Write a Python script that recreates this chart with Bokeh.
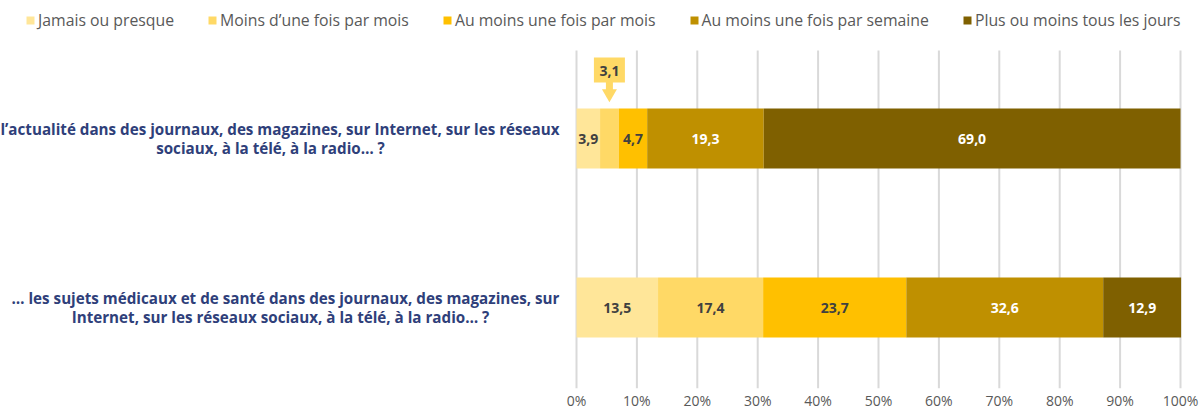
from bokeh.plotting import figure
from bokeh.models import Range1d, Legend, LegendItem, FixedTicker
from bokeh.core.properties import value
from bokeh.embed import file_html
from bokeh.resources import INLINE

# ---------------- data ----------------
series = ["Jamais ou presque", "Moins d\u2019une fois par mois", "Au moins une fois par mois",
          "Au moins une fois par semaine", "Plus ou moins tous les jours"]
colors = ["#FFE699", "#FFD966", "#FFC000", "#BF9000", "#7F6000"]
label_colors = ["#404040", "#404040", "#404040", "#FFFFFF", "#FFFFFF"]

actualite = [3.9, 3.1, 4.7, 19.3, 69.0]
sante = [13.5, 17.4, 23.7, 32.6, 12.9]

cat_actualite = ["l\u2019actualit\u00e9 dans des journaux, des magazines, sur Internet, sur les r\u00e9seaux",
                 "sociaux, \u00e0 la t\u00e9l\u00e9, \u00e0 la radio\u2026 ?"]
cat_sante = ["\u2026 les sujets m\u00e9dicaux et de sant\u00e9 dans des journaux, des magazines, sur",
             "Internet, sur les r\u00e9seaux sociaux, \u00e0 la t\u00e9l\u00e9, \u00e0 la radio\u2026 ?"]

ticks = [0, 10, 20, 30, 40, 50, 60, 70, 80, 90, 100]
tick_labels = ["0%", "10%", "20%", "30%", "40%", "50%", "60%", "70%", "80%", "90%", "100%"]

# ---------------- layout ----------------
FONT = "Open Sans"
FW, FH = 1199, 388
ZERO = 576                     # pixel of 0 %
PX = 6.04                      # pixels per percent
X0 = -ZERO / PX
X1 = (FW - ZERO) / PX
rows = [(138, actualite, cat_actualite, 270 - ZERO), (307, sante, cat_sante, 280 - ZERO)]
BAR_H = 60

p = figure(frame_width=FW, frame_height=FH, min_border=0,
           x_range=Range1d(X0, X1), y_range=Range1d(FH, 0),
           output_backend="svg", toolbar_location=None, y_axis_location=None)
p.outline_line_color = None
p.xgrid.visible = False
p.ygrid.visible = False

# grid lines
p.segment(x0=ticks, x1=ticks, y0=[50] * len(ticks), y1=[FH] * len(ticks),
          line_color="#D9D9D9", line_width=2)

# x axis
ax = p.xaxis[0]
ax.ticker = FixedTicker(ticks=ticks)
ax.major_label_overrides = {t: l for t, l in zip(ticks, tick_labels)}
ax.axis_line_color = None
ax.major_tick_line_color = None
ax.major_tick_out = 0
ax.major_tick_in = 0
ax.minor_tick_line_color = None
ax.minor_tick_out = 0
ax.major_label_standoff = 2
ax.major_label_text_font = FONT
ax.major_label_text_font_size = "14px"
ax.major_label_text_color = "#595959"

# bars
renderers = []
for k in range(len(series)):
    ys, lefts, rights = [], [], []
    for yc, vals, _, _ in rows:
        ys.append(yc)
        lefts.append(sum(vals[:k]))
        rights.append(sum(vals[:k + 1]))
    r = p.hbar(y=ys, left=lefts, right=rights, height=BAR_H,
               fill_color=colors[k], line_color=None)
    renderers.append(r)

# segment labels
callout = None
for yc, vals, _, _ in rows:
    for k, v in enumerate(vals):
        cx = sum(vals[:k]) + v / 2
        txt = f"{v:.1f}".replace(".", ",")
        if vals is actualite and k == 1:
            callout = (cx, txt, colors[k])
            continue
        p.text(x=[cx], y=[yc], text=[txt], text_align="center", text_baseline="middle",
               text_font=value(FONT), text_font_style="bold", text_font_size="14px",
               text_color=label_colors[k])

# callout for the small value
cx, txt, col = callout
p.rect(x=[cx], y=[69.5], width=31, height=25, width_units="screen",
       fill_color=col, line_color=None)
p.rect(x=[cx], y=[86], width=7, height=9, width_units="screen",
       fill_color=col, line_color=None)
p.scatter(x=[cx], y=[93], marker="inverted_triangle", size=15,
          fill_color=col, line_color=None)
p.text(x=[cx], y=[70], text=[txt], text_align="center", text_baseline="middle",
       text_font=value(FONT), text_font_style="bold", text_font_size="14px",
       text_color="#404040")

# category labels
for yc, _, lines, c2 in rows:
    p.text(x=[0], y=[yc - 10], x_offset=-17, text=[lines[0]], text_align="right",
           text_baseline="middle", text_font=value(FONT), text_font_style="bold",
           text_font_size="15.2px", text_color="#2F3F7A")
    p.text(x=[0], y=[yc + 9], x_offset=c2, text=[lines[1]], text_align="center",
           text_baseline="middle", text_font=value(FONT), text_font_style="bold",
           text_font_size="15.2px", text_color="#2F3F7A")

# legend
legend = Legend(items=[LegendItem(label=s, renderers=[r]) for s, r in zip(series, renderers)],
                orientation="horizontal", location=(25, FH - 31),
                glyph_width=10, glyph_height=10, label_standoff=3, spacing=33,
                label_height=20, padding=0, margin=0,
                border_line_color=None, background_fill_alpha=0,
                label_text_font=FONT, label_text_font_size="15.8px", label_text_color="#595959")
p.add_layout(legend)

open("out.html", "w").write(file_html(p, INLINE))
